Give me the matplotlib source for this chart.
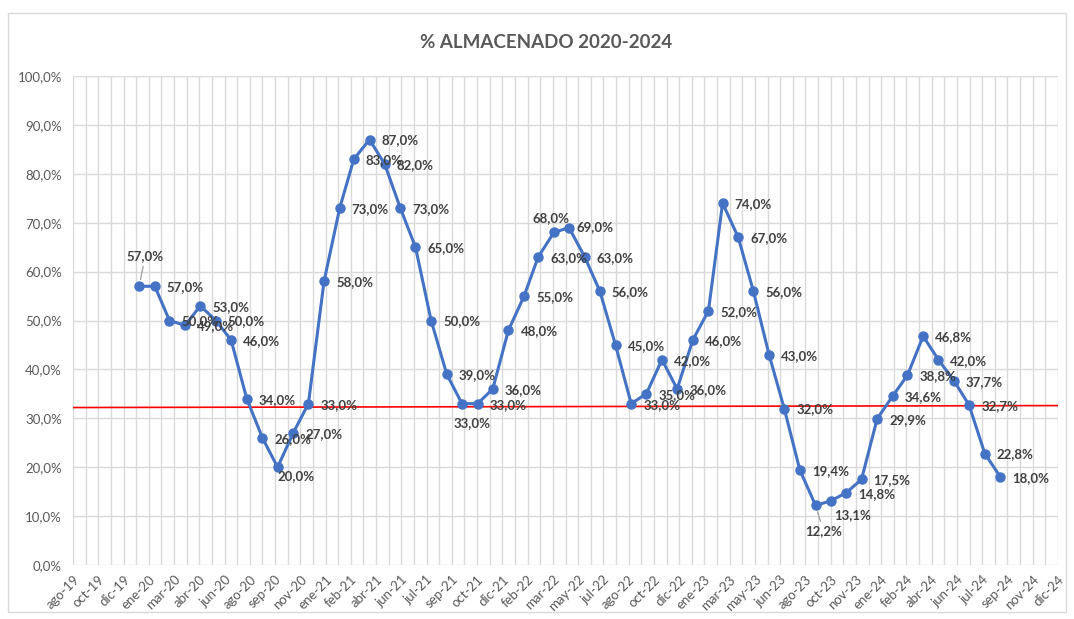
import numpy as np
import pandas as pd
import matplotlib
matplotlib.use("Agg")
import matplotlib.pyplot as plt
from matplotlib.patches import Rectangle

plt.rcParams['font.family'] = ['Lato', 'DejaVu Sans']

# monthly data, ene-20 .. sep-24
months = pd.date_range('2020-01-01', periods=57, freq='MS')
pct = [57.0, 57.0, 50.0, 49.0, 53.0, 50.0, 46.0, 34.0, 26.0, 20.0, 27.0, 33.0,
       58.0, 73.0, 83.0, 87.0, 82.0, 73.0, 65.0, 50.0, 39.0, 33.0, 33.0, 36.0,
       48.0, 55.0, 63.0, 68.0, 69.0, 63.0, 56.0, 45.0, 33.0, 35.0, 42.0, 36.0,
       46.0, 52.0, 74.0, 67.0, 56.0, 43.0, 32.0, 19.4, 12.2, 13.1, 14.8, 17.5,
       29.9, 34.6, 38.8, 46.8, 42.0, 37.7, 32.7, 22.8, 18.0]

# excel-style date axis: start 23-ago-19, major unit 50 days
tick_labels = ['ago-19', 'oct-19', 'dic-19', 'ene-20', 'mar-20', 'abr-20', 'jun-20', 'ago-20',
               'sep-20', 'nov-20', 'ene-21', 'feb-21', 'abr-21', 'jun-21', 'jul-21', 'sep-21',
               'oct-21', 'dic-21', 'feb-22', 'mar-22', 'may-22', 'jul-22', 'ago-22', 'oct-22',
               'dic-22', 'ene-23', 'mar-23', 'may-23', 'jun-23', 'ago-23', 'oct-23', 'nov-23',
               'ene-24', 'feb-24', 'abr-24', 'jun-24', 'jul-24', 'sep-24', 'nov-24', 'dic-24']
axis_start = pd.Timestamp('2019-08-23')
major_days = 50

# red reference line (left, right)
ref_line = [32.2, 32.6]

base = pd.Timestamp('1899-12-30')
x = np.array([(d - base).days for d in months])
x0 = (axis_start - base).days
major = x0 + major_days * np.arange(len(tick_labels))
minor = x0 + major_days / 2 * np.arange(2 * len(tick_labels) - 1)

fig = plt.figure(figsize=(10.74, 6.19), dpi=100)
ax = fig.add_axes([73 / 1074, 1 - 565 / 619, (1058 - 73) / 1074, (565 - 76) / 619])

grid_c = '#d9d9d9'
for v in minor:
    ax.axvline(v, color=grid_c, lw=1, zorder=0)
for v in np.arange(0, 101, 10):
    ax.axhline(v, color=grid_c, lw=1, zorder=0)

ax.plot([major[0], major[-1]], ref_line, color='#ff0000', lw=1.2, zorder=1)
ax.plot(x, pct, color='#4472c4', lw=2.2, marker='o', ms=6.5, zorder=3)

# label offsets in pixels (dx, dy, ha) for moved labels; default right of point
offsets = {0: (6, 30, 'center'), 9: (0, -9, 'left'), 21: (10, -19, 'center'),
           27: (-3, 14, 'center'), 28: (7, 1, 'left'), 44: (8, -26, 'center'),
           45: (3, -14, 'left')}
leaders = {0, 44}
for i, (xi, v) in enumerate(zip(x, pct)):
    dx, dy, ha = offsets.get(i, (12, -1, 'left'))
    txt = f"{v:.1f}%".replace('.', ',')
    kw = {}
    if i in leaders:
        kw['arrowprops'] = dict(arrowstyle='-', color='#a6a6a6', lw=1, shrinkA=1, shrinkB=5)
    ax.annotate(txt, (xi, v), xytext=(dx, dy), textcoords='offset pixels',
                ha=ha, va='center', fontsize=9.5, fontweight='bold', color='#404040',
                zorder=4, **kw)

ax.set_xlim(major[0], major[-1])
ax.set_ylim(0, 100)
ax.set_xticks(major)
ax.set_xticklabels(tick_labels, rotation=45, ha='right', rotation_mode='anchor')
ax.set_yticks(np.arange(0, 101, 10))
ax.set_yticklabels([f"{v:.1f}%".replace('.', ',') for v in np.arange(0, 101, 10)])
ax.tick_params(length=0, labelsize=9.5, labelcolor='#595959')
ax.tick_params(axis='x', pad=6)
ax.tick_params(axis='y', pad=8)
for s in ax.spines.values():
    s.set_visible(False)

fig.text(546 / 1074, 1 - 42 / 619, '% ALMACENADO 2020-2024', ha='center', va='center',
         fontsize=13.5, fontweight='bold', color='#595959')
fig.add_artist(Rectangle((8 / 1074, 1 - 612 / 619), (1066 - 8) / 1074, (612 - 13) / 619,
                         transform=fig.transFigure, fill=False, edgecolor=grid_c, lw=1))

fig.savefig('out.png', dpi=100)
